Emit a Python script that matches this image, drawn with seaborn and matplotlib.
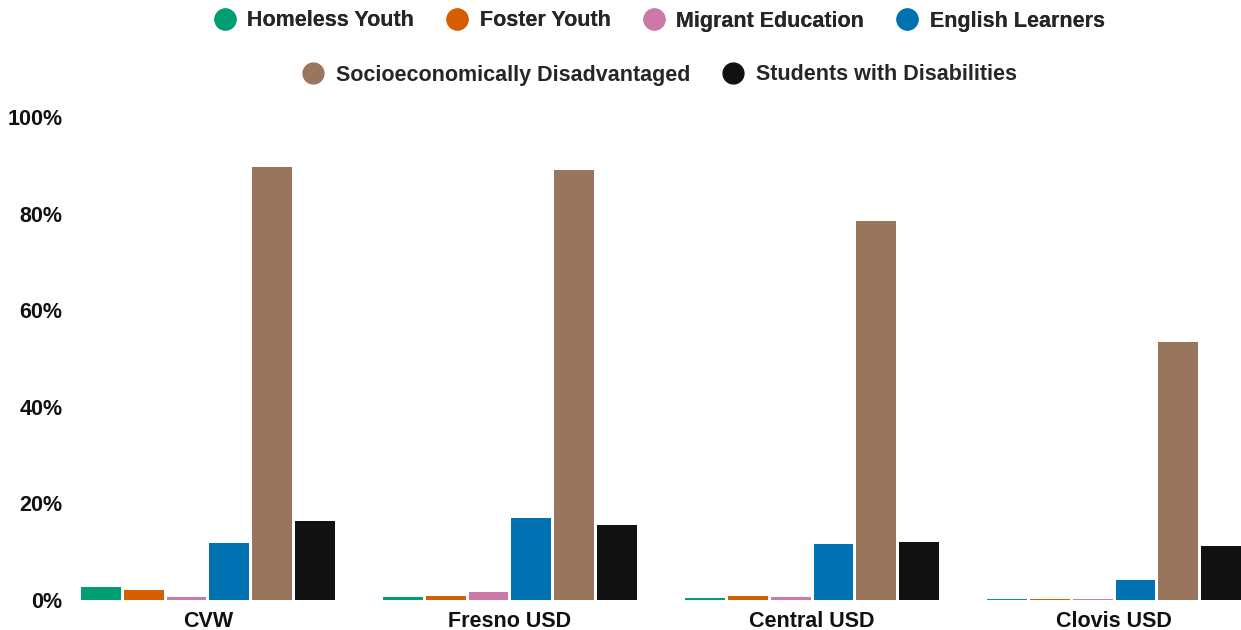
import matplotlib
matplotlib.use("Agg")
import matplotlib.pyplot as plt
from matplotlib.lines import Line2D
from matplotlib.ticker import FuncFormatter
import seaborn as sns
import pandas as pd

districts = ["CVW", "Fresno USD", "Central USD", "Clovis USD"]
groups = ["Homeless Youth", "Foster Youth", "Migrant Education", "English Learners",
          "Socioeconomically Disadvantaged", "Students with Disabilities"]
colors = ["#009E73", "#D55E00", "#CC79A7", "#0072B2", "#9A755D", "#111111"]

homeless = [2.7, 0.6, 0.5, 0.2]
foster = [2.1, 0.8, 0.8, 0.3]
migrant = [0.6, 1.7, 0.6, 0.15]
english = [11.8, 17.0, 11.6, 4.1]
sed = [89.6, 89.0, 78.5, 53.4]
swd = [16.4, 15.5, 12.0, 11.2]
yticks = [0, 20, 40, 60, 80, 100]

series = [homeless, foster, migrant, english, sed, swd]
rows = []
for g, vals in zip(groups, series):
    for d, v in zip(districts, vals):
        rows.append({"District": d, "Group": g, "Value": v})
df = pd.DataFrame(rows)

sns.set_theme(style="white")
plt.rcParams["font.family"] = ["Liberation Sans", "DejaVu Sans"]

fig = plt.figure(figsize=(12.41, 6.30), dpi=100)
ax = fig.add_axes([78 / 1241, 30 / 630, 1 - 78 / 1241, (600 - 117) / 630])

sns.barplot(data=df, x="District", y="Value", hue="Group", hue_order=groups,
            order=districts, palette=colors, width=0.85, gap=0.07,
            linewidth=0, saturation=1, ax=ax, legend=False)

ax.set_ylim(0, 100)
ax.set_xlim(-0.43, 3.42)
ax.set_yticks(yticks)
ax.yaxis.set_major_formatter(FuncFormatter(lambda v, p: f"{int(v)}%"))
ax.set_xlabel("")
ax.set_ylabel("")
for s in ax.spines.values():
    s.set_visible(False)
ax.tick_params(axis="y", length=0, pad=11, labelsize=15.5)
ax.tick_params(axis="x", length=0, pad=8, labelsize=15.5)
for lab in ax.get_xticklabels() + ax.get_yticklabels():
    lab.set_fontweight("bold")
    lab.set_color("#111111")

def handles(idx):
    return [Line2D([0], [0], marker="o", linestyle="", markersize=15,
                   markerfacecolor=colors[i], markeredgecolor=colors[i]) for i in idx]

cx = (78 + 1241) / 2 / 1241
legkw = dict(loc="center", frameon=False, prop={"weight": "bold", "size": 15.5},
             handletextpad=0.55, columnspacing=1.5, handlelength=1.0)
leg1 = fig.legend(handles(range(4)), groups[:4], ncol=4,
                  bbox_to_anchor=(cx, 1 - 21 / 630), **legkw)
leg2 = fig.legend(handles(range(4, 6)), groups[4:], ncol=2,
                  bbox_to_anchor=(cx, 1 - 75 / 630), **legkw)
fig.add_artist(leg1)

fig.savefig("out.png", dpi=100)
